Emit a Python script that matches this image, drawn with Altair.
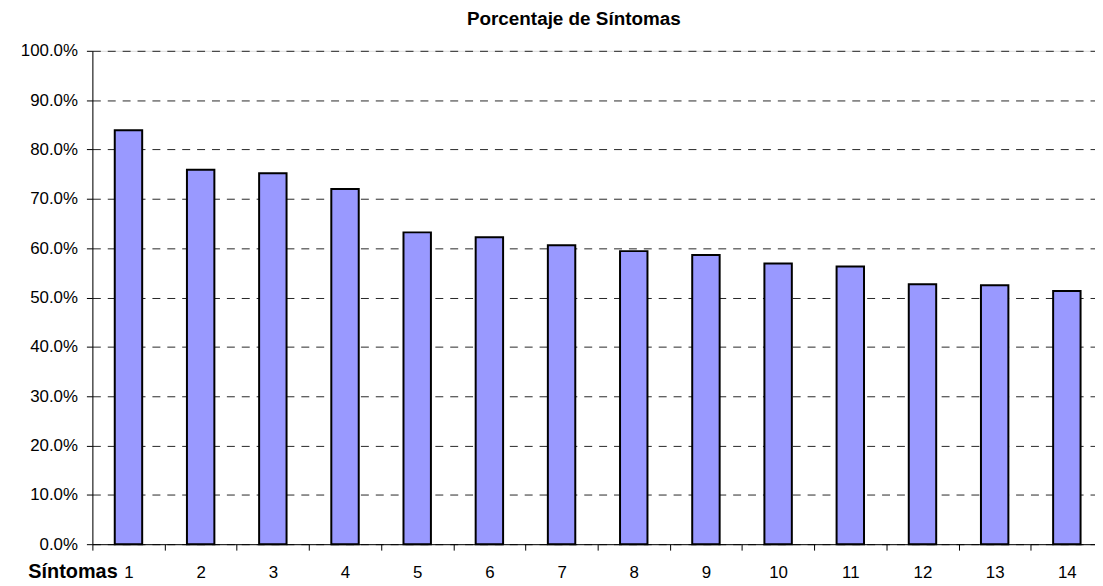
import altair as alt
import pandas as pd

sintomas = [str(i) for i in range(1, 15)]
porcentaje = [0.839, 0.759, 0.752, 0.720, 0.632, 0.622, 0.606,
              0.594, 0.586, 0.569, 0.563, 0.527, 0.525, 0.513]
y_ticks = [0.0, 0.1, 0.2, 0.3, 0.4, 0.5, 0.6, 0.7, 0.8, 0.9, 1.0]

df = pd.DataFrame({"sintoma": sintomas, "pct": porcentaje})

FONT = "Liberation Sans"

chart = alt.Chart(df).mark_bar(
    color="#9999FF", stroke="black", strokeWidth=2,
    width=alt.RelativeBandSize(0.38),
).encode(
    x=alt.X(
        "sintoma:N", sort=sintomas,
        scale=alt.Scale(range=[0, 1018], paddingInner=0, paddingOuter=0),
        axis=alt.Axis(
            title="Síntomas", labelAngle=0, tickBand="extent", tickSize=6,
            tickColor="black", domainColor="black", labelFontSize=17,
            labelPadding=15, labelColor="black", labelFont=FONT,
            titleFont=FONT, titleFontSize=20, titleFontWeight="bold",
            titleColor="black", titleAnchor="start", titleAlign="left",
            titleX=-65, titleY=34, titleBaseline="alphabetic", grid=False,
        ),
    ),
    y=alt.Y(
        "pct:Q",
        scale=alt.Scale(domain=[0, 1], nice=False),
        axis=alt.Axis(
            title=None, values=y_ticks, format=".1%", grid=True,
            gridDash=[8, 7], gridColor="black", gridOpacity=0.85, tickSize=6,
            labelPadding=9, labelFontSize=17, labelFont=FONT, labelColor="black",
            domainColor="black", tickColor="black",
        ),
    ),
).properties(
    width=1010,
    height=497,
    title=alt.TitleParams(
        "Porcentaje de Síntomas", font=FONT, fontSize=19, fontWeight="bold",
        color="black", anchor="middle", frame="group", dx=-20, offset=13,
    ),
    autosize="none",
    padding={"left": 85, "top": 41, "right": 0, "bottom": 40},
).configure_view(stroke=None).configure(font=FONT)

chart.save("out.html", embed_options={"renderer": "svg", "actions": False})
